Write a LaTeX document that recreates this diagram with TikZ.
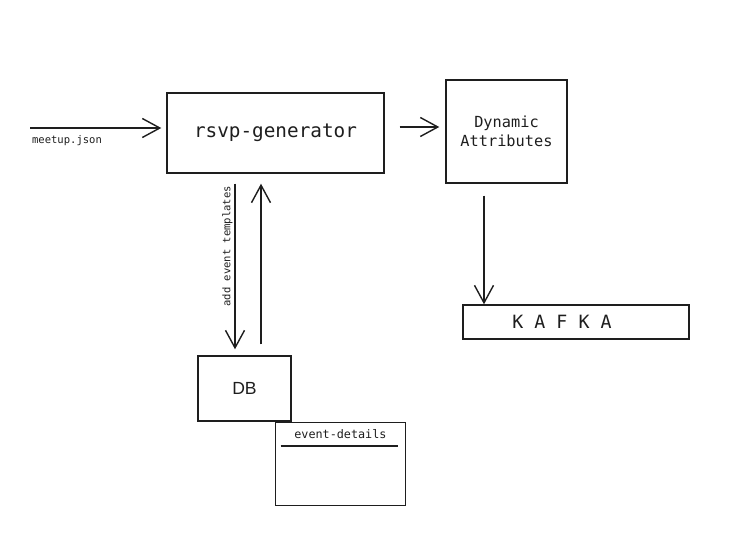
\documentclass[tikz,border=0pt]{standalone}
\usepackage{fontspec}
\setmonofont{DejaVu Sans Mono}
\setsansfont{Liberation Sans}
\usetikzlibrary{positioning, arrows.meta}
\definecolor{ink}{HTML}{1E1E1E}
\tikzstyle{block} = [rectangle, draw=ink, thick, text=ink, inner sep=0pt, align=center, font=\ttfamily]
\tikzstyle{note} = [text=ink, inner sep=1pt, font=\ttfamily\fontsize{6}{7}\selectfont]
\tikzstyle{arrow} = [thick, draw=ink, ->, >={Straight Barb[length=3.5mm, width=3.8mm]}]

\begin{document}
\begin{tikzpicture}[node distance=2cm]

\useasboundingbox (0,0) rectangle (14.8,-11.2);

\node (gen) [block, minimum width=4.34cm, minimum height=1.6cm, font=\ttfamily\fontsize{11}{13}\selectfont] at (5.51,-2.66) {rsvp-generator};

\node (dyn) [block, right of=gen, xshift=2.62cm, yshift=0.03cm, minimum width=2.42cm, minimum height=2.06cm, font=\ttfamily\fontsize{8.7}{10.5}\selectfont] {Dynamic\\Attributes};

\node (kafka) [block, below of=dyn, xshift=1.39cm, yshift=-1.81cm, minimum width=4.52cm, minimum height=0.68cm, font=\ttfamily\fontsize{10.4}{12}\selectfont] {K A F K A\hspace*{0.56cm}};

\node (db) [block, below of=gen, xshift=-0.62cm, yshift=-3.11cm, minimum width=1.86cm, minimum height=1.3cm, font=\sffamily\fontsize{10}{12}\selectfont] {DB};

\node (details) [block, anchor=north west, minimum width=2.6cm, minimum height=1.66cm] at ([xshift=-0.34cm]db.south east) {};
\node (detailstitle) [note, font=\ttfamily\fontsize{6.7}{8}\selectfont] at ([yshift=-0.24cm]details.north) {event-details};
\draw [ink, line width=1.2pt] ([xshift=0.12cm, yshift=-0.48cm]details.north west) -- ([xshift=-0.16cm, yshift=-0.48cm]details.north east);

% input
\coordinate (json) at (0.6,-2.56);
\node (jsonlbl) [note, anchor=north west] at ([yshift=-0.1cm]json) {meetup.json};
\draw [arrow, shorten >=0.1cm] (json) -- (json -| gen.west);

% generator to attributes
\coordinate (mid) at (0,-2.54);
\draw [arrow, shorten <=0.3cm, shorten >=0.12cm] (gen.east |- mid) -- (dyn.west |- mid);

\coordinate (kx) at (9.68,0);
\draw [arrow, shorten <=0.24cm] (dyn.south -| kx) -- (kafka.north -| kx);

% generator <-> DB
\coordinate (dx) at (4.7,0);
\coordinate (ux) at (5.22,0);
\draw [arrow, shorten <=0.2cm, shorten >=0.12cm] (gen.south -| dx) -- (db.north -| dx)
  node (tpl) [note, pos=0.4, anchor=south, rotate=90] {add event templates};
\draw [arrow, shorten <=0.22cm, shorten >=0.2cm] (db.north -| ux) -- (gen.south -| ux);

\end{tikzpicture}
\end{document}
